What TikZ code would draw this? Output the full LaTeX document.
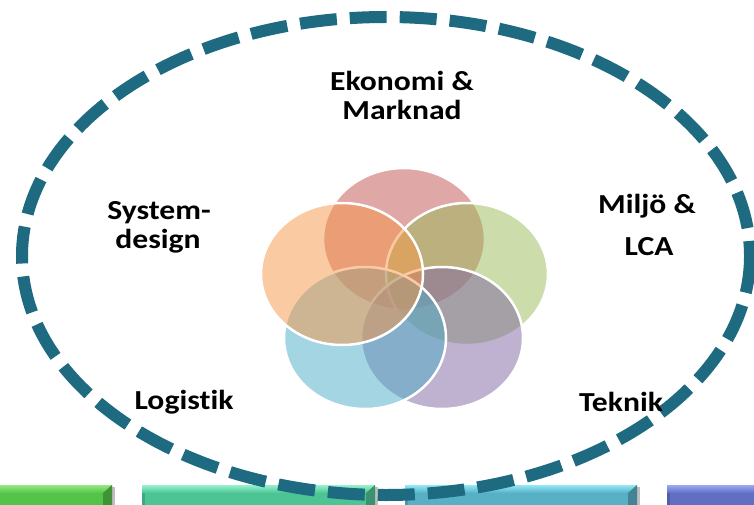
\documentclass[tikz,border=0pt]{standalone}
\usepackage{fontspec}
\setmainfont{Carlito}[FakeStretch=1.15,Ligatures=NoCommon]
\definecolor{ring}{RGB}{30,106,128}
\definecolor{cred}{HTML}{C0504D}
\definecolor{cgreen}{HTML}{9BBB59}
\definecolor{cpurple}{HTML}{8064A2}
\definecolor{caqua}{HTML}{4BACC6}
\definecolor{corange}{HTML}{F79646}
\definecolor{barA}{RGB}{84,196,72}
\definecolor{barAl}{RGB}{150,232,130}
\definecolor{barB}{RGB}{76,196,148}
\definecolor{barBl}{RGB}{150,242,205}
\definecolor{barC}{RGB}{88,176,198}
\definecolor{barCl}{RGB}{145,232,246}
\definecolor{barD}{RGB}{96,110,196}
\definecolor{barDl}{RGB}{155,170,240}
\begin{document}
\begin{tikzpicture}[x=1pt,y=-1pt,
  venn/.style={fill=#1,fill opacity=0.5,draw=white,draw opacity=1,line width=2.5pt},
  lbl/.style={font=\bfseries\fontsize{27.5}{29}\selectfont,text=black,align=center,inner sep=0pt}]
\useasboundingbox (0,0) rectangle (754,505);
\fill[white] (0,0) rectangle (754,505);
% bottom bars
\foreach \xa/\xb/\m/\l in {-10/112/barA/barAl,142/375/barB/barBl,405/637/barC/barCl,667/770/barD/barDl}{
  \fill[black!25] (\xb,487) rectangle (\xb+3,505);
  \fill[\m] (\xa,485) rectangle (\xb,505);
  \shade[top color=\l,bottom color=\m] (\xa,485) rectangle (\xb,493);
  \fill[\m!75!black] (\xb-9,493) -- (\xb,485) -- (\xb,505) -- (\xb-9,505) -- cycle;
  \fill[\m!85!black] (\xa,493) -- (\xa+3,493) -- (\xa+3,505) -- (\xa,505) -- cycle;
}
% venn
\path[venn=cred] (404,239) ellipse [x radius=81,y radius=71];
\path[venn=cgreen] (467,274) ellipse [x radius=81,y radius=71];
\path[venn=cpurple] (442,338) ellipse [x radius=81,y radius=71];
\path[venn=caqua] (365,338) ellipse [x radius=81,y radius=71];
\path[venn=corange] (342,274) ellipse [x radius=81,y radius=71];
% dashed ring
\draw[ring,line width=12pt,dash pattern=on 37pt off 13pt] (386,256) ellipse [x radius=364,y radius=239];
% labels
\node[lbl] (eko) at (402,81) {Ekonomi \&};
\node[lbl] (mark) at (402,110) {Marknad};
\node[lbl] (sys) at (159,213) {System-};
\node[lbl] (des) at (158,241) {design};
\node[lbl] (mil) at (647,206) {Miljö \&};
\node[lbl] (lca) at (649,247) {LCA};
\node[lbl] (log) at (184,402) {Logistik};
\node[lbl] (tek) at (621,402) {Teknik};
\end{tikzpicture}
\end{document}
